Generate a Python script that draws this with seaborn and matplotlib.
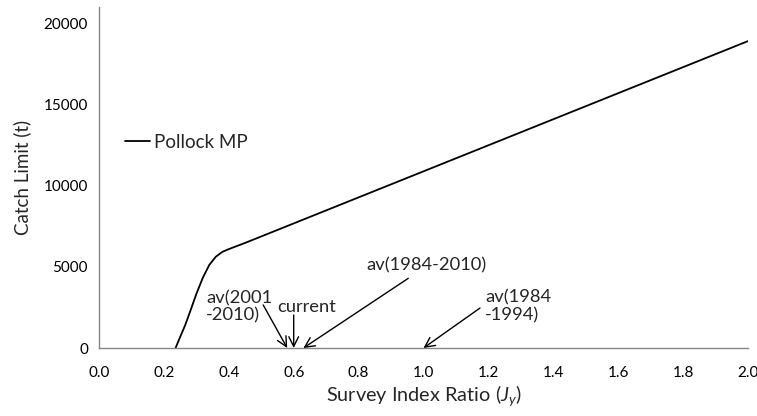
import matplotlib
matplotlib.use("Agg")
import matplotlib.pyplot as plt
import seaborn as sns
import pandas as pd

# ---- data ----
survey_ratio = [0.236, 0.25, 0.265, 0.28, 0.30, 0.32, 0.34, 0.36, 0.38, 0.40,
                0.45, 0.50, 1.0, 1.5, 2.0]
catch_limit = [0, 680, 1380, 2200, 3330, 4330, 5120, 5620, 5920, 6090,
               6470, 6870, 10880, 14890, 18900]
series_name = "Pollock MP"

annot_labels = ["av(2001\n-2010)", "current", "av(1984-2010)", "av(1984\n-1994)"]
annot_targets = [0.58, 0.60, 0.63, 1.0]

x_ticks = [0.0, 0.2, 0.4, 0.6, 0.8, 1.0, 1.2, 1.4, 1.6, 1.8, 2.0]
y_ticks = [0, 5000, 10000, 15000, 20000]

df = pd.DataFrame({"ratio": survey_ratio, "catch": catch_limit, "series": series_name})

sns.set_style("white")
plt.rcParams["font.family"] = ["Lato", "DejaVu Sans"]
plt.rcParams["mathtext.fontset"] = "custom"
plt.rcParams["mathtext.rm"] = "Lato"
plt.rcParams["mathtext.it"] = "Lato:italic"

W, H = 757, 416
fig = plt.figure(figsize=(W / 100, H / 100), dpi=100)
ax = fig.add_axes([99 / W, (H - 348) / H, (748 - 99) / W, (348 - 7) / H])

sns.lineplot(data=df, x="ratio", y="catch", hue="series", palette=["black"],
             linewidth=1.3, ax=ax)

ax.set_xlim(0, 2.0)
ax.set_ylim(0, 21000)
ax.set_xticks(x_ticks)
ax.set_xticklabels([f"{t:.1f}" for t in x_ticks])
ax.set_yticks(y_ticks)
ax.set_yticklabels([str(t) for t in y_ticks])

grey = "#868686"
for s in ["top", "right"]:
    ax.spines[s].set_visible(False)
for s in ["left", "bottom"]:
    ax.spines[s].set_color(grey)
    ax.spines[s].set_linewidth(1.0)
ax.tick_params(axis="both", direction="out", length=5, width=1.0, color=grey,
               labelsize=11, labelcolor="black")
ax.tick_params(axis="y", pad=3)
ax.tick_params(axis="x", pad=8)

ax.set_xlabel("Survey Index Ratio ($J_y$)", fontsize=14.3, labelpad=2)
ax.set_ylabel("Catch Limit (t)", fontsize=13.5, labelpad=9)

leg = ax.legend(loc="center left", bbox_to_anchor=(125 / W, 1 - 142 / H),
                bbox_transform=fig.transFigure, frameon=False, fontsize=13.5,
                handlelength=1.35, handletextpad=0.2, borderpad=0, borderaxespad=0)

# annotations: text positions and arrow start points (data coords)
text_pos = [(0.330, 2520), (0.548, 2540), (0.825, 5110), (1.19, 2550)]
arrow_start = [(0.506, 2650), (0.600, 2030), (0.953, 4290), (1.174, 2460)]
for lab, tx, (xt, yt), (xs, ys) in zip(annot_labels, annot_targets, text_pos, arrow_start):
    ax.text(xt, yt, lab, ha="left", va="center", fontsize=13.2, linespacing=1.1)
    ax.annotate("", xy=(tx, 0), xytext=(xs, ys),
                arrowprops=dict(arrowstyle="->,head_length=0.7,head_width=0.35",
                                color="black", lw=1.0, shrinkA=0, shrinkB=0))

fig.savefig("out.png", dpi=100)
